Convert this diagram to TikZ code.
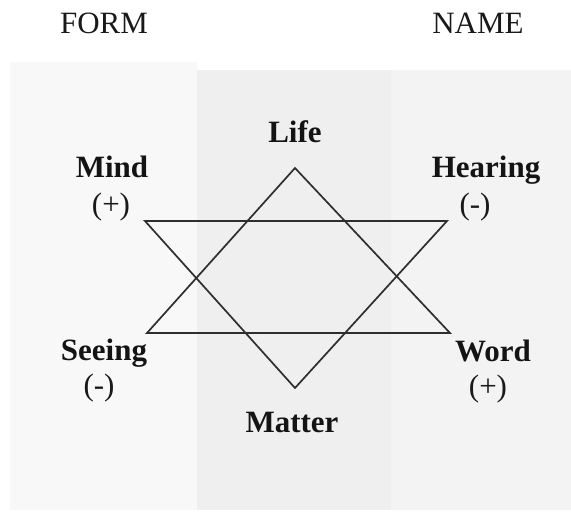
\documentclass[tikz,border=0pt]{standalone}
\usepackage{fontspec}
\setmainfont{Liberation Serif}
\definecolor{panelL}{HTML}{F8F8F8}
\definecolor{panelM}{HTML}{EFEFEF}
\definecolor{panelR}{HTML}{F3F3F3}
\definecolor{starline}{HTML}{2E2E2E}
\begin{document}
\begin{tikzpicture}[x=1pt,y=-1pt,
  lbl/.style={inner sep=0pt,anchor=base,font=\fontsize{31}{31}\selectfont\bfseries,text=black!92},
  sign/.style={inner sep=0pt,anchor=base,font=\fontsize{31}{31}\selectfont,text=black!90},
  head/.style={inner sep=0pt,anchor=base,font=\fontsize{31}{31}\selectfont,text=black!90},
  edge/.style={draw=starline,line width=1.7pt,line join=miter}]
\useasboundingbox (0,0) rectangle (571,512);
% background panels
\fill[panelL] (10,62) rectangle (197,510);
\fill[panelM] (197,70) rectangle (391,510);
\fill[panelR] (391,70) rectangle (571,510);
% headings
\node[head] (form) at (104,33) {FORM};
\node[head] (name) at (478,33) {NAME};
% star vertices
\coordinate (life) at (295,168);
\coordinate (seeing) at (147,333);
\coordinate (word) at (450,333);
\coordinate (mind) at (145,221);
\coordinate (hearing) at (447,221);
\coordinate (matter) at (295,388);
\draw[edge] (life) -- (word) -- (seeing) -- cycle;
\draw[edge] (mind) -- (hearing) -- (matter) -- cycle;
% labels
\node[lbl] (lLife) at (295,142) {Life};
\node[lbl] (lMind) at (112,177) {Mind};
\node[sign] (sMind) at (111,214) {(+)};
\node[lbl] (lHearing) at (486,177) {Hearing};
\node[sign] (sHearing) at (475,214) {(-)};
\node[lbl] (lSeeing) at (104,360) {Seeing};
\node[sign] (sSeeing) at (99,395) {(-)};
\node[lbl] (lWord) at (493,361) {Word};
\node[sign] (sWord) at (488,396) {(+)};
\node[lbl] (lMatter) at (292,432) {Matter};
\end{tikzpicture}
\end{document}
